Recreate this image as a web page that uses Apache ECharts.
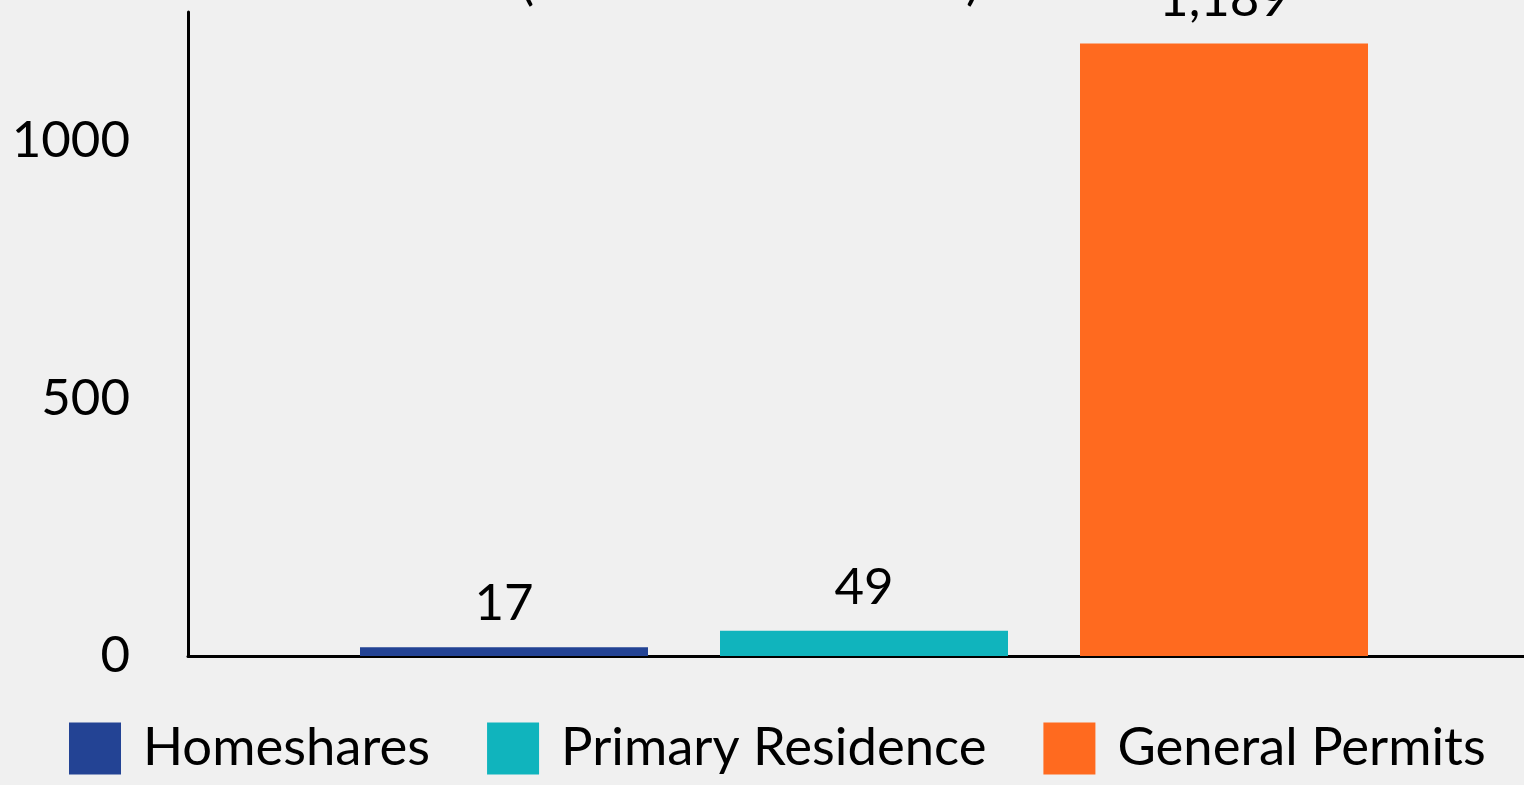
<!DOCTYPE html>
<html lang="en">
<head>
    <meta charset="UTF-8">
    <title>Permits</title>
    <script src="https://cdn.jsdelivr.net/npm/echarts@6/dist/echarts.min.js"></script>
    <style>
        html,body{margin:0;padding:0;background-color:#f0f0f0;}
        #chart{width:1524px;height:785px;}
    </style>
</head>
<body>
<div id="chart"></div>
<script>
    // data
    var categories = ['Permits'];
    var seriesNames = ['Homeshares', 'Primary Residence', 'General Permits'];
    var seriesValues = [17, 49, 1189];
    var seriesColors = ['#234394', '#10b4bd', '#ff6a1f'];
    var yTicks = [0, 500, 1000];

    var myChart = echarts.init(document.getElementById('chart'));

    var series = [];
    for (var i = 0; i < seriesNames.length; i++) {
        series.push({
            name: seriesNames[i],
            type: 'bar',
            data: [seriesValues[i]],
            barWidth: 288,
            barGap: '25%',
            itemStyle: {color: seriesColors[i]},
            label: {
                show: true,
                position: 'top',
                distance: 18,
                color: '#000',
                fontFamily: 'Lato',
                fontSize: 51,
                formatter: function (p) {
                    return p.value.toLocaleString('en-US');
                }
            }
        });
    }

    var option = {
        backgroundColor: '#f0f0f0',
        animation: false,
        title: {
            text: '(Number of Permits)',
            left: 745,
            textAlign: 'center',
            top: -49,
            textStyle: {fontFamily: 'Lato', fontSize: 52, fontWeight: 'normal', color: '#000'}
        },
        legend: {
            left: 64,
            bottom: 5,
            itemWidth: 52,
            itemHeight: 52,
            itemGap: 57,
            icon: 'rect',
            textStyle: {fontFamily: 'Lato', fontSize: 52.6, color: '#000', padding: [0, 0, 0, 17]},
            data: seriesNames
        },
        grid: {left: 188, top: 12, width: 1352, bottom: 129, outerBoundsMode: 'none'},
        xAxis: {
            type: 'category',
            data: categories,
            axisLine: {lineStyle: {color: '#000', width: 3}},
            axisTick: {show: false},
            axisLabel: {show: false}
        },
        yAxis: {
            type: 'value',
            min: yTicks[0],
            max: 1250,
            interval: yTicks[1] - yTicks[0],
            splitLine: {show: false},
            axisLine: {show: true, lineStyle: {color: '#000', width: 3}},
            axisTick: {show: false},
            axisLabel: {
                showMaxLabel: false,
                margin: 58,
                color: '#000',
                fontFamily: 'Lato',
                fontSize: 51,
                formatter: function (v) { return String(v); }
            }
        },
        series: series
    };
    myChart.setOption(option);
</script>
</body>
</html>
